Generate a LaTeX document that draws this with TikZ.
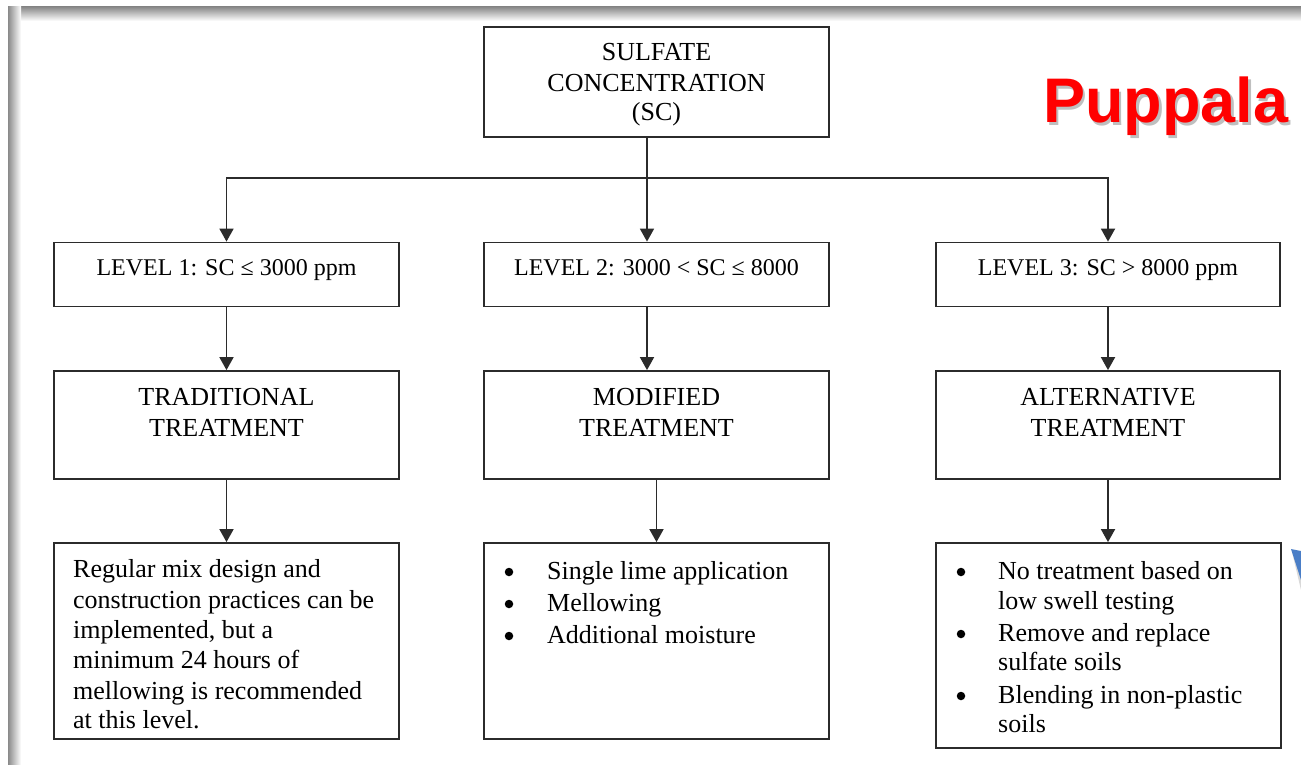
\documentclass[tikz,border=0pt]{standalone}
\usepackage{fontspec}
\setmainfont{Liberation Serif}
\newfontfamily\puppfont{Liberation Sans}
\usetikzlibrary{arrows.meta}
\definecolor{linec}{HTML}{2B2B2B}
\definecolor{framegray}{HTML}{8A8A8A}
\definecolor{pblue}{HTML}{4A7EC7}
\tikzset{
  boxnode/.style={draw=linec, line width=1.8pt, rectangle, inner sep=0pt},
  arr/.style={draw=linec, line width=1.8pt, -{Triangle[width=14pt,length=13pt]}},
  conn/.style={draw=linec, line width=1.8pt},
  txt/.style={inner sep=0pt, anchor=base, font=\fontsize{26}{30}\selectfont},
  lvltxt/.style={inner sep=0pt, anchor=base, font=\fontsize{24}{28}\selectfont},
  bodytxt/.style={inner sep=0pt, anchor=base west, font=\fontsize{26}{30}\selectfont},
  bul/.style={circle, fill=black, inner sep=0pt, minimum size=8.5pt}
}
\begin{document}
\begin{tikzpicture}[x=1pt,y=-1pt]
\useasboundingbox (0,0) rectangle (1301,765);
\fill[white] (0,0) rectangle (1301,765);
% slide frame shadow
\shade[top color=framegray, bottom color=white] (8,7) rectangle (1301,21);
\shade[left color=framegray, right color=white] (8,7) rectangle (21,765);

% Puppala label
\node[inner sep=0pt, anchor=base west, font=\puppfont\bfseries\fontsize{63}{63}\selectfont, text=black!25] (pupsh) at (1045.5,125.5) {Puppala};
\node[inner sep=0pt, anchor=base west, font=\puppfont\bfseries\fontsize{63}{63}\selectfont, text=red] (pup) at (1043,123) {Puppala};

% blue corner shape
\fill[black!15] (1292,552) -- (1301,555) -- (1301,590) -- cycle;
\fill[pblue] (1291,549) -- (1301,551) -- (1301,580) -- cycle;

% top box
\node[boxnode, minimum width=345pt, minimum height=110pt] (top) at (656.5,82) {};
\node[txt] (t1) at (656.5,61) {SULFATE};
\node[txt] (t2) at (656.5,91.5) {CONCENTRATION};
\node[txt] (t3) at (656.5,121) {(SC)};

% level boxes
\node[boxnode, minimum width=345pt, minimum height=64pt] (l1) at (226.5,274.5) {};
\node[boxnode, minimum width=345pt, minimum height=64pt] (l2) at (656.5,274.5) {};
\node[boxnode, minimum width=344pt, minimum height=64pt] (l3) at (1108,274.5) {};
\node[lvltxt] (l1t) at (226.5,275) {LEVEL 1: SC ≤ 3000 ppm};
\node[lvltxt] (l2t) at (656.5,275) {LEVEL 2: 3000 < SC ≤ 8000};
\node[lvltxt] (l3t) at (1108,275) {LEVEL 3: SC > 8000 ppm};

% treatment boxes
\node[boxnode, minimum width=345pt, minimum height=108pt] (r1) at (226.5,425) {};
\node[boxnode, minimum width=345pt, minimum height=108pt] (r2) at (656.5,425) {};
\node[boxnode, minimum width=344pt, minimum height=108pt] (r3) at (1108,425) {};
\node[txt] (r1a) at (226.5,405) {TRADITIONAL};
\node[txt] (r1b) at (226.5,436) {TREATMENT};
\node[txt] (r2a) at (656.5,405) {MODIFIED};
\node[txt] (r2b) at (656.5,436) {TREATMENT};
\node[txt] (r3a) at (1108,405) {ALTERNATIVE};
\node[txt] (r3b) at (1108,436) {TREATMENT};

% bottom boxes
\node[boxnode, minimum width=345pt, minimum height=196pt] (b1) at (226.5,641) {};
\node[boxnode, minimum width=345pt, minimum height=196pt] (b2) at (656.5,641) {};
\node[boxnode, minimum width=345pt, minimum height=205pt] (b3) at (1108.5,645.5) {};

\node[bodytxt] (b1a) at (73,577) {Regular mix design and};
\node[bodytxt] (b1b) at (73,608) {construction practices can be};
\node[bodytxt] (b1c) at (73,638) {implemented, but a};
\node[bodytxt] (b1d) at (73,668) {minimum 24 hours of};
\node[bodytxt] (b1e) at (73,699) {mellowing is recommended};
\node[bodytxt] (b1f) at (73,728) {at this level.};

\node[bul] (b2u1) at (509,572) {};
\node[bul] (b2u2) at (509,604) {};
\node[bul] (b2u3) at (509,636) {};
\node[bodytxt] (b2a) at (547,579) {Single lime application};
\node[bodytxt] (b2b) at (547,611) {Mellowing};
\node[bodytxt] (b2c) at (547,643) {Additional moisture};

\node[bul] (b3u1) at (961,572) {};
\node[bul] (b3u2) at (961,634) {};
\node[bul] (b3u3) at (961,696) {};
\node[bodytxt] (b3a) at (998,579) {No treatment based on};
\node[bodytxt] (b3b) at (998,609) {low swell testing};
\node[bodytxt] (b3c) at (998,641) {Remove and replace};
\node[bodytxt] (b3d) at (998,670) {sulfate soils};
\node[bodytxt] (b3e) at (998,703) {Blending in non-plastic};
\node[bodytxt] (b3f) at (998,732) {soils};

% connectors
\coordinate (j) at (647,178);
\draw[conn] (top.south -| j) -- (j);
\draw[arr] (j) -| (l1.north);
\draw[arr] (j) -| (l3.north);
\draw[arr] (j) -- (l2.north -| j);

\draw[arr] (l1.south) -- (r1.north);
\draw[arr] (l2.south -| j) -- (r2.north -| j);
\draw[arr] (l3.south) -- (r3.north);

\draw[arr] (r1.south) -- (b1.north);
\draw[arr] (r2.south) -- (b2.north);
\draw[arr] (r3.south) -- (b3.north -| r3.south);
\end{tikzpicture}
\end{document}
